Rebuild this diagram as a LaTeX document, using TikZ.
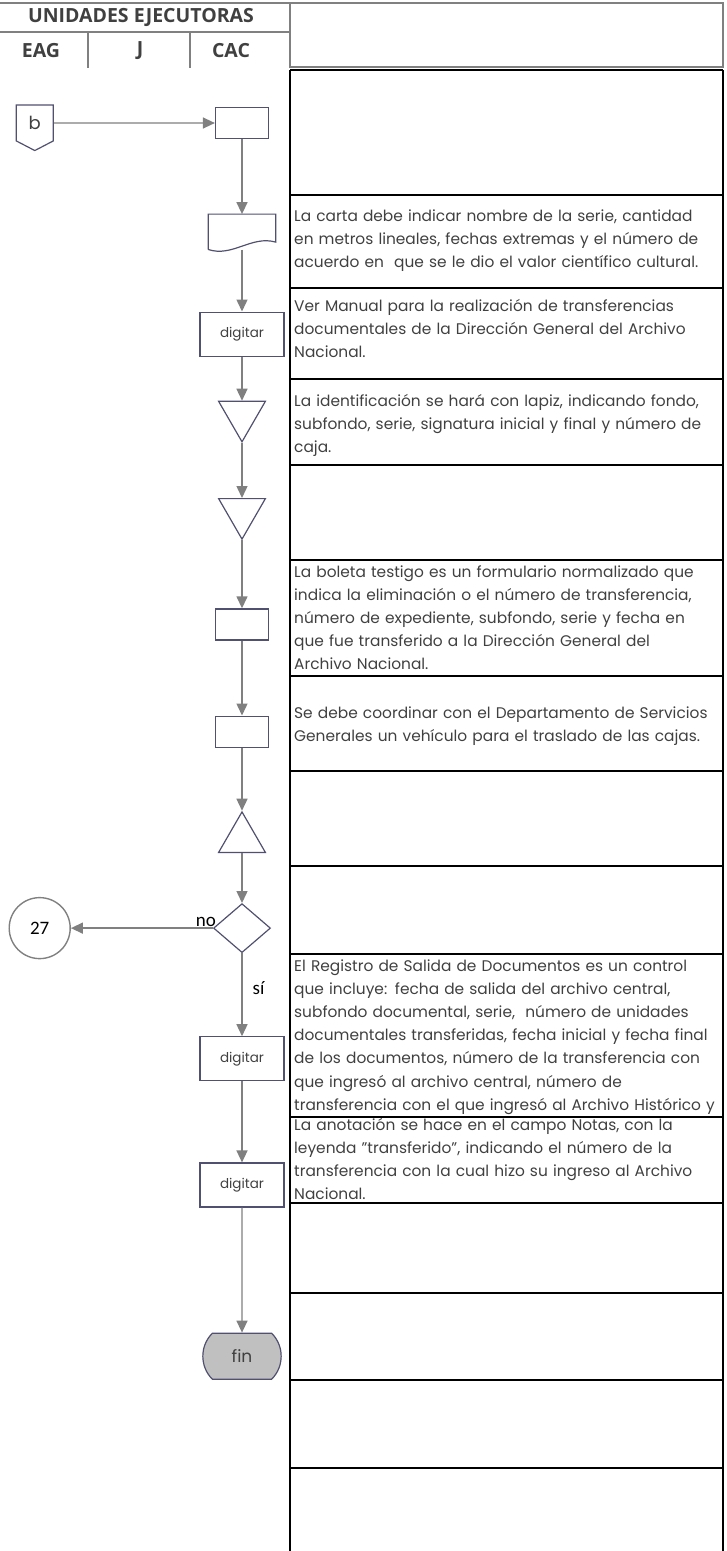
\documentclass[tikz,border=0pt]{standalone}
\usepackage{fontspec}
\setmainfont{Poppins}
\newfontfamily\calibri{Carlito}
\newfontfamily\titulo{Open Sans}
\usetikzlibrary{positioning, arrows.meta, shapes.geometric, shapes.misc, shapes.symbols}
\definecolor{linea}{RGB}{128,128,128}
\definecolor{borde}{RGB}{80,80,112}
\definecolor{texto}{RGB}{64,64,64}
\definecolor{relleno}{RGB}{192,192,192}
\tikzset{
  flujo/.style={draw=linea, line width=1.4pt, -{Triangle[width=11pt,length=12pt]}},
  marco/.style={draw=linea, line width=2pt},
  tabla/.style={draw=black, line width=2.6pt},
  proc/.style={rectangle, draw=borde, line width=1.2pt, minimum width=53pt, minimum height=31pt, inner sep=0pt},
  dig/.style={proc, minimum width=84pt, minimum height=44pt, text=texto, font=\fontsize{13.5}{15}\selectfont},
  docu/.style={rectangle, minimum width=67pt, minimum height=35pt, inner sep=0pt},
  almacen/.style={regular polygon, regular polygon sides=3, shape border rotate=180, draw=borde, line width=1.2pt, minimum size=54pt, inner sep=0pt},
  archivo/.style={almacen, shape border rotate=0},
  decision/.style={diamond, draw=borde, line width=1.2pt, minimum width=57pt, minimum height=49pt, inner sep=0pt},
  final/.style={rounded rectangle, rounded rectangle arc length=90, draw=borde, line width=1.2pt, fill=relleno, minimum width=85pt, minimum height=46pt, text=texto, font=\fontsize{17}{20}\selectfont},
  pagina/.style={signal, signal to=south, signal pointer angle=125, draw=borde, line width=1.2pt, minimum width=37pt, minimum height=39pt, inner sep=0pt, text=texto, font=\fontsize{18}{20}\selectfont},
  conector/.style={circle, draw=linea, line width=1.4pt, minimum size=61pt, inner sep=0pt, font=\calibri\fontsize{19}{22}\selectfont},
  etiqueta/.style={font=\calibri\fontsize{19}{22}\selectfont, inner sep=1pt},
  encabezado/.style={font=\titulo\bfseries\fontsize{19.5}{23}\selectfont, text=texto, inner sep=0pt},
  nota/.style={anchor=base west, inner sep=0pt, text width=470pt, align=left, text=texto, font=\fontsize{15.4}{23.2}\selectfont}
}
\begin{document}
\begin{tikzpicture}[x=1pt, y=-1pt]
\useasboundingbox (0,0) rectangle (726,1551);
% encabezado
\draw[marco] (0,3) -- (290,3);
\draw[marco] (0,32) -- (290,32);
\draw[marco] (88,32) -- (88,68);
\draw[marco] (190,32) -- (190,68);
\draw[marco] (290,3) rectangle (723,67);
\node[encabezado] (ue) at (141,17) {UNIDADES EJECUTORAS};
\node[encabezado] (eag) at (41,51) {EAG};
\node[encabezado] (jef) at (140,51) {J};
\node[encabezado] (cac) at (231,51) {CAC};
% tabla de notas
\draw[tabla] (290,70) -- (290,1555);
\draw[tabla] (723,70) -- (723,1555);
\foreach \y in {70,195,288,379,465,560,676,771,866,954,1117,1203,1293,1380,1468}
  \draw[tabla] (290,\y) -- (723,\y);
\node[nota] (n1) at (294,221) {La carta debe indicar nombre de la serie, cantidad\\
en metros lineales, fechas extremas y el número de\\
acuerdo en \ que se le dio el valor científico cultural.};
\node[nota] (n2) at (294,311) {Ver Manual para la realización de transferencias\\
documentales de la Dirección General del Archivo\\
Nacional.};
\node[nota] (n3) at (294,406) {La identificación se hará con lapiz, indicando fondo,\\
subfondo, serie, signatura inicial y final y número de\\
caja.};
\node[nota] (n4) at (294,577) {La boleta testigo es un formulario normalizado que\\
indica la eliminación o el número de transferencia,\\
número de expediente, subfondo, serie y fecha en\\
que fue transferido a la Dirección General del\\
Archivo Nacional.};
\node[nota] (n5) at (294,718) {Se debe coordinar con el Departamento de Servicios\\
Generales un vehículo para el traslado de las cajas.};
\node[nota] (n6) at (294,971) {El Registro de Salida de Documentos es un control\\
que incluye: fecha de salida del archivo central,\\
subfondo documental, serie, \ número de unidades\\
documentales transferidas, fecha inicial y fecha final\\
de los documentos, número de la transferencia con\\
que ingresó al archivo central, número de\\
transferencia con el que ingresó al Archivo Histórico y};
\node[nota] (n7) at (294,1130) {La anotación se hace en el campo Notas, con la\\
leyenda "transferido", indicando el número de la\\
transferencia con la cual hizo su ingreso al Archivo\\
Nacional.};
% flujo
\node[proc] (p1) at (242,123) {};
\node[docu, below=75pt of p1] (d1) {};
\draw[borde, line width=1.2pt] (d1.south west) -- (d1.north west) -- (d1.north east) -- ++(0,28)
  .. controls +(-24,-7) and +(24,8) .. (d1.south west);
\node[dig, below=62pt of d1] (g1) {digitar};
\node[almacen, below=44pt of g1] (t1) {};
\node[almacen, below=55pt of t1] (t2) {};
\node[proc, below=68pt of t2] (p2) {};
\node[proc, below=75pt of p2] (p3) {};
\node[archivo, below=63pt of p3] (t3) {};
\node[decision, below=50pt of t3] (q1) {};
\node[dig, below=83pt of q1] (g2) {digitar};
\node[dig, below=81pt of g2] (g3) {digitar};
\node[final, below=125pt of g3] (f1) {fin};
\node[pagina, left=161pt of p1] (cb) {b};
\node[conector, left=142pt of q1] (c27) {27};
\draw[flujo] (cb) -- (p1);
\draw[flujo] (p1) -- (d1);
\draw[flujo] (d1) -- (g1);
\draw[flujo] (g1) -- (t1);
\draw[flujo] (t1) -- (t2);
\draw[flujo] (t2) -- (p2);
\draw[flujo] (p2) -- (p3);
\draw[flujo] (p3) -- (t3);
\draw[flujo] (t3) -- (q1);
\draw[flujo] (q1) -- node[etiqueta, above, pos=0.05] {no} (c27);
\draw[flujo] (q1) -- node[etiqueta, right=9pt, pos=0.42] {sí} (g2);
\draw[flujo] (g2) -- (g3);
\draw[flujo] (g3) -- (f1);
\end{tikzpicture}
\end{document}
